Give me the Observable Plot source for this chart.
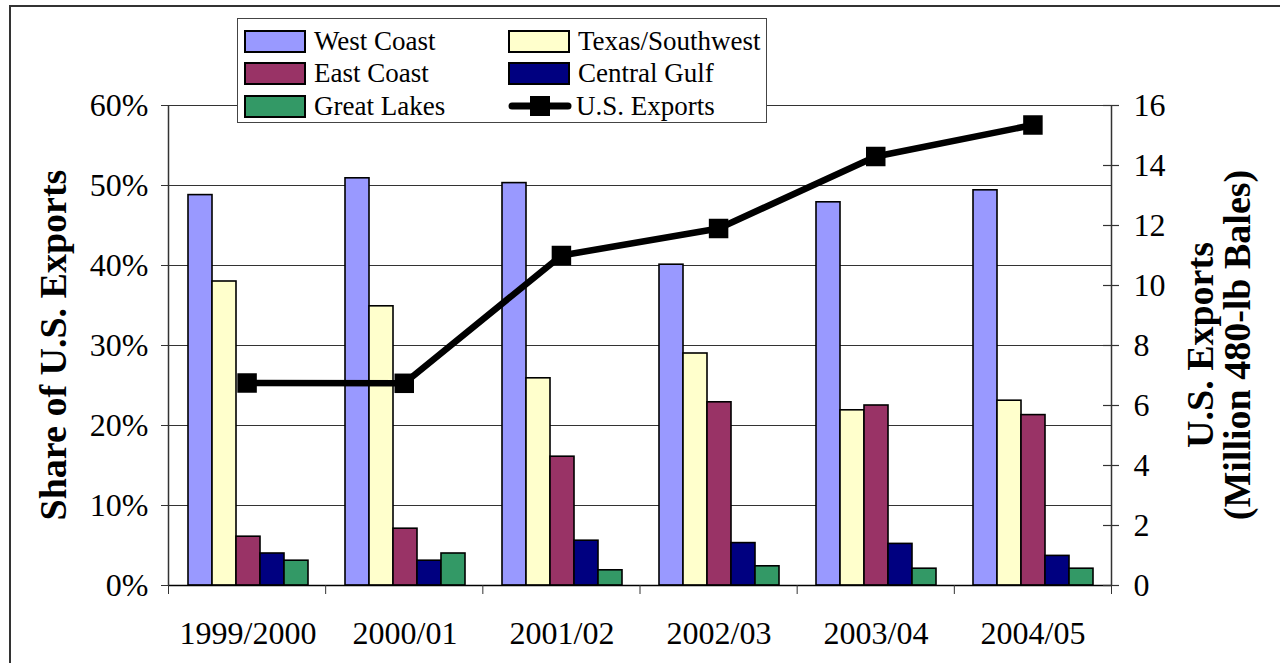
<!DOCTYPE html>
<html>
<head>
<meta charset="utf-8">
<script src="https://cdn.jsdelivr.net/npm/d3@7"></script>
<script src="https://cdn.jsdelivr.net/npm/@observablehq/plot@0.6"></script>
<style>
  html, body { margin: 0; padding: 0; background: #fff; overflow: hidden; }
  #wrap { position: relative; width: 1280px; height: 663px; overflow: hidden; font-family: "Liberation Serif", "Times New Roman", serif; color: #000; }
  #frame { position: absolute; left: 9px; top: 5px; width: 1320px; height: 720px; border: 2px solid #333; box-sizing: border-box; }
  .layer { position: absolute; left: 0; top: 0; }
  .title { position: absolute; font-family: "Liberation Serif", "Times New Roman", serif; font-weight: bold; font-size: 38px; line-height: 37px; white-space: nowrap; text-align: center; transform: translate(-50%, -50%) rotate(-90deg); }
  #legend { position: absolute; left: 237px; top: 18px; width: 530px; height: 105px; border: 1.5px solid #444; background: #fff; box-sizing: border-box; }
  .item { position: absolute; height: 30px; display: flex; align-items: center; font-family: "Liberation Serif", "Times New Roman", serif; font-size: 27px; white-space: nowrap; }
  .sw { width: 58px; height: 19px; border: 2px solid #000; margin-right: 8px; box-sizing: content-box; }
</style>
</head>
<body>
<div id="wrap">
  <div id="frame"></div>
</div>
<script>
// ---- data ----
const years = ["1999/2000", "2000/01", "2001/02", "2002/03", "2003/04", "2004/05"];
const regions = ["West Coast", "Texas/Southwest", "East Coast", "Central Gulf", "Great Lakes"];
const regionColors = ["#9999FF", "#FFFFCC", "#993366", "#000080", "#339966"];
const westCoast = [48.8, 50.9, 50.3, 40.1, 47.9, 49.4];
const texasSouthwest = [38.0, 34.9, 25.9, 29.0, 21.9, 23.1];
const eastCoast = [6.1, 7.1, 16.1, 22.9, 22.5, 21.3];
const centralGulf = [4.0, 3.1, 5.6, 5.3, 5.2, 3.7];
const greatLakes = [3.1, 4.0, 1.9, 2.4, 2.1, 2.1];
const usExports = [6.75, 6.74, 11.0, 11.9, 14.3, 15.35];
const shareTicks = [0, 10, 20, 30, 40, 50, 60];
const exportTicks = [0, 2, 4, 6, 8, 10, 12, 14, 16];
const exportsLabel = "U.S. Exports";
const leftTitle = "Share of U.S. Exports";
const rightTitle = ["U.S. Exports", "(Million 480-lb Bales)"];

// ---- build tables ----
const seriesByRegion = [westCoast, texasSouthwest, eastCoast, centralGulf, greatLakes];
const barRows = [];
years.forEach((y, i) => regions.forEach((r, j) => barRows.push({year: y, region: r, share: seriesByRegion[j][i]})));
const lineRows = years.map((y, i) => ({year: y, idx: i + 0.5, exports: usExports[i]}));

const W = 1280, H = 663;
const M = {left: 168, right: 169, top: 105, bottom: 78};
const plotW = W - M.left - M.right;
const font = {fontFamily: '"Liberation Serif", "Times New Roman", serif', fontSize: "32px", color: "#000", background: "transparent", overflow: "visible"};

const bars = Plot.plot({
  width: W, height: H,
  marginLeft: M.left, marginRight: M.right, marginTop: M.top, marginBottom: M.bottom,
  style: font,
  fx: {domain: years, padding: 0, label: null},
  x: {domain: regions, paddingInner: 0, paddingOuter: 0.7, axis: null, label: null},
  y: {domain: [0, 60], axis: null, label: null},
  color: {domain: regions, range: regionColors},
  marks: [
    Plot.gridY(shareTicks, {stroke: "#000", strokeOpacity: 0.8, strokeWidth: 1}),
    Plot.axisY(shareTicks, {anchor: "left", label: null, tickFormat: d => d + "%", tickSize: 8, tickPadding: 13, stroke: "#333", fill: "#000"}),
    Plot.axisFx({anchor: "bottom", tickSize: 0, tickPadding: 36, label: null, fill: "#000"}),
    Plot.barY(barRows, {fx: "year", x: "region", y: "share", fill: "region", stroke: "#000", strokeWidth: 1.6})
  ]
});

const overlay = Plot.plot({
  width: W, height: H,
  marginLeft: M.left, marginRight: M.right, marginTop: M.top, marginBottom: M.bottom,
  style: font,
  x: {domain: [0, years.length], axis: null, label: null},
  y: {domain: [0, 16], axis: null, label: null},
  marks: [
    Plot.ruleY([0], {stroke: "#000", strokeWidth: 1.5}),
    Plot.ruleX([0, years.length], {stroke: "#333", strokeWidth: 1.5}),
    Plot.axisX(d3.range(years.length + 1), {anchor: "bottom", tickSize: 9, tickFormat: () => "", stroke: "#333", label: null}),
    Plot.tickY(exportTicks, {y: d => d, insetLeft: plotW - 8, insetRight: -8, stroke: "#333", strokeWidth: 1.2}),
    Plot.axisY(exportTicks, {anchor: "right", tickSize: 0, tickPadding: 22, fill: "#000", label: null}),
    Plot.line(lineRows, {x: "idx", y: "exports", stroke: "#000", strokeWidth: 6.5}),
    Plot.dot(lineRows, {x: "idx", y: "exports", symbol: "square", r: 11, fill: "#000", stroke: "none"})
  ]
});

const wrap = document.getElementById("wrap");
bars.classList.add("layer");
overlay.classList.add("layer");
wrap.appendChild(bars);
wrap.appendChild(overlay);

// axis titles
const lt = document.createElement("div");
lt.className = "title";
lt.style.left = "53px"; lt.style.top = "345px";
lt.textContent = leftTitle;
wrap.appendChild(lt);

const rt = document.createElement("div");
rt.className = "title";
rt.style.left = "1219px"; rt.style.top = "345px";
rt.innerHTML = rightTitle.map(t => `<div>${t}</div>`).join("");
wrap.appendChild(rt);

// legend
const legend = document.createElement("div");
legend.id = "legend";
const legendItems = [
  {label: regions[0], color: regionColors[0], col: 0, row: 0},
  {label: regions[1], color: regionColors[1], col: 1, row: 0},
  {label: regions[2], color: regionColors[2], col: 0, row: 1},
  {label: regions[3], color: regionColors[3], col: 1, row: 1},
  {label: regions[4], color: regionColors[4], col: 0, row: 2},
  {label: exportsLabel, color: null, col: 1, row: 2}
];
legendItems.forEach(it => {
  const d = document.createElement("div");
  d.className = "item";
  d.style.left = (it.col ? 270 : 6) + "px";
  d.style.top = (7 + it.row * 32.5) + "px";
  if (it.color) {
    const s = document.createElement("div");
    s.className = "sw";
    s.style.background = it.color;
    d.appendChild(s);
  } else {
    const ns = "http://www.w3.org/2000/svg";
    const svg = document.createElementNS(ns, "svg");
    svg.setAttribute("width", "64"); svg.setAttribute("height", "24");
    svg.style.marginRight = "4px";
    const ln = document.createElementNS(ns, "line");
    ln.setAttribute("x1", "4"); ln.setAttribute("x2", "60"); ln.setAttribute("y1", "12"); ln.setAttribute("y2", "12");
    ln.setAttribute("stroke", "#000"); ln.setAttribute("stroke-width", "7"); ln.setAttribute("stroke-linecap", "round");
    const rc = document.createElementNS(ns, "rect");
    rc.setAttribute("x", "22"); rc.setAttribute("y", "2"); rc.setAttribute("width", "20"); rc.setAttribute("height", "20");
    rc.setAttribute("fill", "#000");
    svg.appendChild(ln); svg.appendChild(rc);
    d.appendChild(svg);
  }
  const t = document.createElement("span");
  t.textContent = it.label;
  d.appendChild(t);
  legend.appendChild(d);
});
wrap.appendChild(legend);
</script>
</body>
</html>
